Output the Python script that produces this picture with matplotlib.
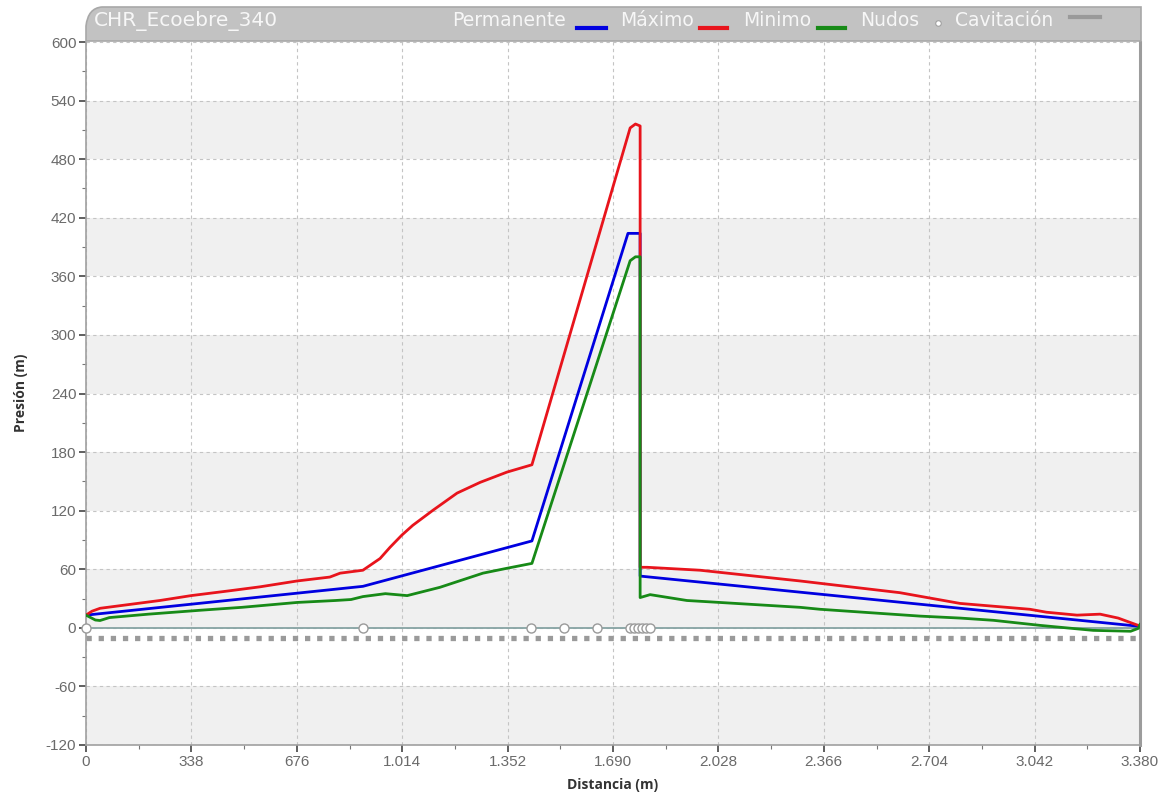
import matplotlib
matplotlib.use("Agg")
import matplotlib.pyplot as plt
from matplotlib.path import Path
from matplotlib.patches import PathPatch
from matplotlib.ticker import MultipleLocator, FuncFormatter

plt.rcParams["axes.unicode_minus"] = False

#%% Data ######################################################################

titulo = "CHR_Ecoebre_340"

# Permanente (blue)
perm_x = [0, 888, 1430, 1738, 1777, 1777, 3380]
perm_y = [13, 42.5, 89, 404, 404, 53, 1.5]

# Máximo (red)
max_x = [0, 19, 45, 141, 237, 337, 462, 558, 677, 782, 815, 888, 943, 975,
         1013, 1048, 1113, 1190, 1264, 1350, 1430, 1745, 1762, 1777, 1777,
         1800, 1969, 2290, 2610, 2803, 3027, 3080, 3178, 3252, 3310, 3370, 3380]
max_y = [13, 17, 20, 24, 28, 33, 38, 42, 48, 52, 56, 59, 71, 82.5,
         95, 105, 120.5, 138, 149, 159.5, 167, 512, 516, 514, 62,
         62, 59, 48, 36, 25, 19, 16, 13, 14, 10, 3, 2]

# Minimo (green)
min_x = [0, 30, 45, 75, 200, 366, 500, 677, 800, 850, 888, 960, 1030, 1135,
         1273, 1350, 1430, 1745, 1762, 1777, 1777, 1809, 1927, 2032, 2290,
         2354, 2675, 2803, 2910, 3060, 3230, 3350, 3375, 3380]
min_y = [13, 8, 7.5, 10.5, 14, 18, 21, 26, 28, 29, 32, 35, 33, 41.5,
         56, 61, 66, 376, 380, 380, 31, 34, 28, 26, 21,
         19, 12, 10, 7.7, 2.5, -2.6, -3.5, -0.5, 3.5]

# Nudos
nudos_x = [0, 888, 1427, 1533, 1639, 1745, 1757, 1770, 1783, 1796, 1809]
nudos_y = [0] * len(nudos_x)

# Cavitación
cav_x = [0, 3380]
cav_y = [-10, -10]

xticks = [338 * i for i in range(11)]
yticks = list(range(-120, 601, 60))

#%% Figure ####################################################################

fig = plt.figure(figsize=(11.7, 7.96), dpi=100)
ax = fig.add_axes([86 / 1170, 1 - 745 / 796, 1054 / 1170, (745 - 42) / 796])

# alternating bands
for lo in range(-120, 600, 120):
    ax.axhspan(lo, lo + 60, color="#f0f0f0", zorder=0, lw=0)

ax.grid(True, which="major", ls=(0, (3, 3)), color="#c4c4c4", lw=0.8, zorder=1)

ax.plot([0, 3380], [0, 0], color="#86a3a3", lw=1.3, zorder=2)
ax.plot(cav_x, cav_y, color="#9a9a9a", lw=3.8, ls=(0, (1, 1.3)),
        solid_capstyle="butt", dash_capstyle="butt", zorder=2)

ax.plot(perm_x, perm_y, color="#0000e0", lw=2.0, zorder=3)
ax.plot(max_x, max_y, color="#e8141c", lw=2.0, zorder=4)
ax.plot(min_x, min_y, color="#178a17", lw=2.0, zorder=5)
ax.plot(nudos_x, nudos_y, ls="none", marker="o", ms=6.5, mfc="white",
        mec="#9a9a9a", mew=1.0, zorder=6, clip_on=False)

ax.set_xlim(0, 3380)
ax.set_ylim(-120, 600)
ax.set_xticks(xticks)
ax.set_yticks(yticks)
ax.xaxis.set_minor_locator(MultipleLocator(169))
ax.yaxis.set_minor_locator(MultipleLocator(30))
ax.xaxis.set_major_formatter(FuncFormatter(lambda v, p: f"{int(v):,}".replace(",", ".")))

ax.tick_params(which="major", length=5, width=1.2, color="#444444",
               labelcolor="#6a6a6a", labelsize=11, pad=2)
ax.tick_params(which="minor", length=3, width=0.8, color="#777777")
for lab in ax.get_xticklabels() + ax.get_yticklabels():
    lab.set_fontfamily("Liberation Sans")

for s in ["left", "bottom"]:
    ax.spines[s].set_color("#a0a0a0")
    ax.spines[s].set_linewidth(1.2)
ax.spines["right"].set_color("#9c9c9c")
ax.spines["right"].set_linewidth(2.2)
ax.spines["top"].set_visible(False)

#%% Overlay: header bar, legend, axis labels ##################################

ov = fig.add_axes([0, 0, 1, 1], zorder=10)
ov.set_xlim(0, 1170)
ov.set_ylim(796, 0)
ov.axis("off")
ov.patch.set_alpha(0)

verts = [(86, 41), (86, 26), (88, 8), (102, 7), (1141, 7), (1141, 41), (86, 41)]
codes = [Path.MOVETO, Path.LINETO, Path.CURVE3, Path.CURVE3,
         Path.LINETO, Path.LINETO, Path.CLOSEPOLY]
ov.add_patch(PathPatch(Path(verts, codes), facecolor="#c2c2c2",
                       edgecolor="#a8a8a8", lw=1.2))

hdr = dict(color="#f7f7f7", fontsize=13.5, va="center", ha="left",
           family="DejaVu Sans")
ov.text(94, 21, titulo, **dict(hdr, fontsize=14.5))
ov.text(452, 21, "Permanente", **hdr)
ov.text(620, 21, "Máximo", **hdr)
ov.text(743, 21, "Minimo", **hdr)
ov.text(860, 21, "Nudos", **hdr)
ov.text(955, 21, "Cavitación", **hdr)

ov.plot([577, 606], [28, 28], color="#0000e0", lw=3)
ov.plot([700, 727], [28, 28], color="#e8141c", lw=3)
ov.plot([818, 845], [28, 28], color="#178a17", lw=3)
ov.plot([938], [23], marker="o", ms=4, mfc="white", mec="#a0a0a0", mew=0.8)
ov.plot([1070, 1100], [17, 17], color="#9a9a9a", lw=3)

lbl = dict(color="#333333", fontsize=10, fontweight="bold", family="Open Sans",
           ha="center", va="center")
ov.text(613, 785, "Distancia (m)", **lbl)
ov.text(21, 393, "Presión (m)", rotation=90, **lbl)

fig.savefig("out.png", dpi=100)
